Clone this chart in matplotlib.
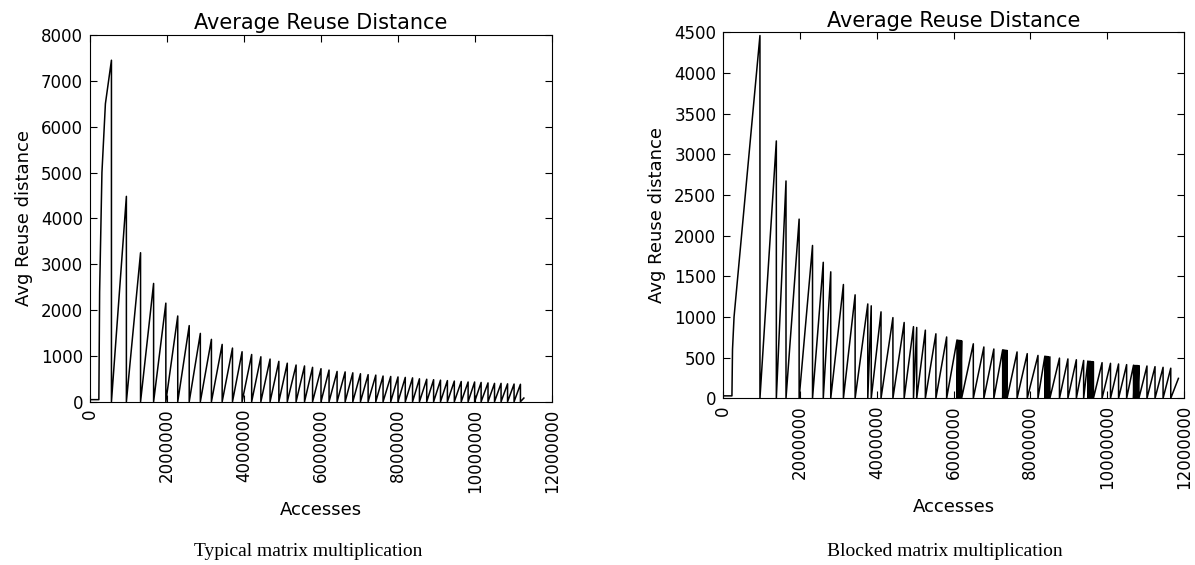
import matplotlib
matplotlib.use("Agg")
import matplotlib.pyplot as plt

# typical matrix multiplication: start-up part, then sawtooth peaks
typ_start_x = [0, 230000, 250000, 310000, 400000]
typ_start_y = [45, 45, 2400, 5000, 6500]
typ_peak_x = [557000, 945000, 1313000, 1652000, 1970000, 2279000, 2577000, 2866000,
              3154000, 3433000, 3701000, 3950000, 4199000, 4438000, 4677000, 4905000,
              5124000, 5353000, 5572000, 5781000, 6000000, 6209000, 6418000, 6627000,
              6826000, 7025000, 7224000, 7423000, 7612000, 7811000, 8000000, 8189000,
              8378000, 8557000, 8746000, 8925000, 9104000, 9283000, 9463000, 9642000,
              9821000, 9990000, 10159000, 10338000, 10507000, 10677000, 10846000,
              11015000, 11180000]
typ_peak_y = [7450, 4480, 3250, 2580, 2150, 1870, 1660, 1490, 1360, 1250, 1170, 1090,
              1030, 980, 930, 880, 840, 800, 780, 750, 720, 690, 660, 650, 630, 610,
              590, 580, 560, 550, 540, 530, 520, 500, 490, 480, 470, 460, 450, 440,
              430, 430, 420, 410, 400, 400, 390, 385, 380]
typ_end = (11270000, 80)

# blocked matrix multiplication
blk_start_x = [0, 225000, 240000, 280000]
blk_start_y = [30, 30, 600, 1000]
blk_peak_x = [955000, 1382000, 1634000, 1976000, 2325000, 2605000, 2800000, 3130000,
              3435000, 3765000, 3855000, 4110000, 4420000, 4713000, 4956000, 5040000,
              5265000, 5540000, 5820000,
              6090000, 6120000, 6150000, 6180000, 6210000,
              6515000, 6790000, 7050000,
              7280000, 7310000, 7340000, 7370000, 7395000,
              7655000, 7920000, 8200000,
              8380000, 8410000, 8440000, 8470000, 8510000,
              8760000, 8980000, 9200000, 9390000,
              9500000, 9535000, 9570000, 9605000, 9645000,
              9870000, 10090000, 10300000, 10510000,
              10690000, 10725000, 10760000, 10795000, 10830000,
              11040000, 11250000, 11460000, 11660000]
blk_peak_y = [4460, 3164, 2672, 2203, 1879, 1672, 1555, 1399,
              1272, 1160, 1137, 1063, 992, 932, 881, 871,
              838, 793, 754,
              717, 714, 712, 710, 708,
              670, 631, 606,
              596, 594, 592, 590, 588,
              570, 549, 527,
              518, 516, 514, 512, 510,
              494, 484, 474, 465,
              458, 456, 454, 452, 450,
              438, 430, 422, 414,
              407, 405, 404, 403, 402,
              397, 389, 381, 370]
blk_end = (11860000, 245)

x_ticks = [0, 2000000, 4000000, 6000000, 8000000, 10000000, 12000000]
x_tick_labels = ["0", "2000000", "4000000", "6000000", "8000000", "10000000", "12000000"]
typ_y_ticks = [0, 1000, 2000, 3000, 4000, 5000, 6000, 7000, 8000]
blk_y_ticks = [0, 500, 1000, 1500, 2000, 2500, 3000, 3500, 4000, 4500]


def build_line(start_x, start_y, peak_x, peak_y, end):
    xs = list(start_x)
    ys = list(start_y)
    for px, py in zip(peak_x, peak_y):
        xs += [px, px]
        ys += [py, 0]
    xs.append(end[0])
    ys.append(end[1])
    return xs, ys


def style_axes(ax, y_ticks, y_max, caption, cap_x):
    ax.set_xlim(0, 12000000)
    ax.set_ylim(0, y_max)
    ax.set_xticks(x_ticks)
    ax.set_xticklabels(x_tick_labels, rotation=90)
    ax.set_yticks(y_ticks)
    ax.tick_params(direction="in", top=True, right=True, length=5, labelsize=12, pad=5)
    ax.set_title("Average Reuse Distance", fontsize=15, pad=4)
    ax.set_xlabel("Accesses", fontsize=13, labelpad=6)
    ax.set_ylabel("Avg Reuse distance", fontsize=13, labelpad=6)
    fig.text(cap_x, 1 - 552 / 565, caption, ha="center", va="center",
             family="Liberation Serif", fontsize=14)


fig = plt.figure(figsize=(11.95, 5.65), dpi=100)

ax1 = fig.add_axes([90 / 1195, 1 - 401.7 / 565, 462 / 1195, 366.7 / 565])
tx, ty = build_line(typ_start_x, typ_start_y, typ_peak_x, typ_peak_y, typ_end)
ax1.plot(tx, ty, color="black", linewidth=1.1)
style_axes(ax1, typ_y_ticks, 8000, "Typical matrix multiplication", 308 / 1195)

ax2 = fig.add_axes([723.3 / 1195, 1 - 398.3 / 565, 460.5 / 1195, 366 / 565])
bx, by = build_line(blk_start_x, blk_start_y, blk_peak_x, blk_peak_y, blk_end)
ax2.plot(bx, by, color="black", linewidth=1.1)
style_axes(ax2, blk_y_ticks, 4500, "Blocked matrix multiplication", 945 / 1195)

fig.savefig("out.png", dpi=100)
